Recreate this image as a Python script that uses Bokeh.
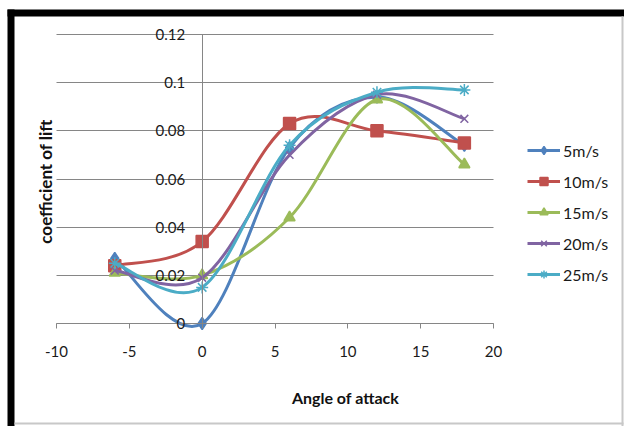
import math
from bokeh.plotting import figure
from bokeh.models import (FixedTicker, Legend, LegendItem, Label, BoxAnnotation,
                          ColumnDataSource, LinearAxis, Grid)
from bokeh.embed import file_html
from bokeh.resources import INLINE

# ---- data ----
angles = [-6, 0, 6, 12, 18]
series_names = ["5m/s", "10m/s", "15m/s", "20m/s", "25m/s"]
cl_5 = [0.027, 0.000, 0.073, 0.094, 0.074]
cl_10 = [0.024, 0.034, 0.083, 0.080, 0.075]
cl_15 = [0.021, 0.020, 0.044, 0.093, 0.066]
cl_20 = [0.022, 0.019, 0.070, 0.095, 0.085]
cl_25 = [0.025, 0.015, 0.074, 0.096, 0.097]
x_ticks = [-10, -5, 0, 5, 10, 15, 20]
x_tick_labels = ["-10", "-5", "0", "5", "10", "15", "20"]
y_ticks = [0, 0.02, 0.04, 0.06, 0.08, 0.1, 0.12]
y_tick_labels = ["0", "0.02", "0.04", "0.06", "0.08", "0.1", "0.12"]

colors = ["#4F81BD", "#C0504D", "#9BBB59", "#8064A2", "#4BACC6"]
markers = ["diamond", "square", "triangle", "x", "asterisk"]
msizes = [12, 12, 11, 11, 12]
FONT = "Lato"
GRID = "#868686"
TXT = "#1a1a1a"

W, H = 624, 426
# plot-area placement inside the chart (pixels)
PX0, PX1, PY_TOP, PY_BOT = 56, 493, 34, 323
x_lo, x_hi = x_ticks[0], x_ticks[-1]
y_lo, y_hi = y_ticks[0], y_ticks[-1]
sx = (PX1 - PX0) / (x_hi - x_lo)
sy = (PY_BOT - PY_TOP) / (y_hi - y_lo)

p = figure(width=W, height=H, output_backend="svg", toolbar_location=None,
           x_axis_type=None, y_axis_type=None,
           x_range=(x_lo - PX0 / sx, x_hi + (W - PX1) / sx),
           y_range=(y_lo - (H - PY_BOT) / sy, y_hi + PY_TOP / sy),
           min_border=0)
p.outline_line_color = None
p.background_fill_color = "white"
p.border_fill_color = "white"

grid = Grid(dimension=1, ticker=FixedTicker(ticks=y_ticks),
            grid_line_color=GRID, grid_line_width=1)
grid.cross_bounds = (x_lo, x_hi)
p.add_layout(grid)

xa = LinearAxis(fixed_location=0, bounds=(x_lo, x_hi),
                ticker=FixedTicker(ticks=x_ticks))
xa.major_label_overrides = dict(zip(x_ticks, x_tick_labels))
xa.axis_line_color = GRID
xa.major_tick_line_color = GRID
xa.major_tick_out = 5
xa.major_tick_in = 0
xa.minor_tick_out = 0
xa.minor_tick_in = 0
xa.major_label_standoff = 17
xa.major_label_text_font = FONT
xa.major_label_text_font_size = "15px"
xa.major_label_text_color = TXT
p.add_layout(xa, "below")

ya = LinearAxis(fixed_location=0, bounds=(y_lo, y_hi),
                ticker=FixedTicker(ticks=y_ticks))
ya.major_label_overrides = dict(zip(y_ticks, y_tick_labels))
ya.axis_line_color = GRID
ya.major_tick_out = 0
ya.major_tick_in = 0
ya.minor_tick_out = 0
ya.minor_tick_in = 0
ya.major_label_standoff = 17
ya.major_label_text_font = FONT
ya.major_label_text_font_size = "15px"
ya.major_label_text_color = TXT
p.add_layout(ya, "left")


def smooth_segments(xs, ys):
    n = len(xs)
    d = dict(x0=[], y0=[], x1=[], y1=[], cx0=[], cy0=[], cx1=[], cy1=[])
    for i in range(n - 1):
        a = i - 1 if i > 0 else i
        b = i + 2 if i + 2 < n else i + 1
        d["x0"].append(xs[i]); d["y0"].append(ys[i])
        d["x1"].append(xs[i + 1]); d["y1"].append(ys[i + 1])
        d["cx0"].append(xs[i] + (xs[i + 1] - xs[a]) / 6)
        d["cy0"].append(ys[i] + (ys[i + 1] - ys[a]) / 6)
        d["cx1"].append(xs[i + 1] - (xs[b] - xs[i]) / 6)
        d["cy1"].append(ys[i + 1] - (ys[b] - ys[i]) / 6)
    return d


items = []
for name, vals, c, m, s in zip(series_names, [cl_5, cl_10, cl_15, cl_20, cl_25],
                               colors, markers, msizes):
    src = ColumnDataSource(smooth_segments(angles, vals))
    r1 = p.bezier(x0="x0", y0="y0", x1="x1", y1="y1", cx0="cx0", cy0="cy0",
                  cx1="cx1", cy1="cy1", source=src, line_color=c, line_width=3)
    r2 = p.scatter(angles, vals, marker=m, size=s, fill_color=c, line_color=c,
                   line_width=1.5)
    items.append(LegendItem(label=name, renderers=[r1, r2]))

legend = Legend(items=items, location=(527, H - 284), orientation="vertical",
                padding=0, margin=0, spacing=11, glyph_width=33, glyph_height=20,
                label_height=20, label_standoff=3, border_line_color=None,
                background_fill_alpha=0, label_text_font=FONT,
                label_text_font_size="16px", label_text_color=TXT)
p.add_layout(legend, "center")

p.add_layout(Label(x=45, y=H - 181, x_units="screen", y_units="screen",
                   text="coefficient of lift", angle=math.pi / 2,
                   text_align="center", text_baseline="middle",
                   text_font=FONT, text_font_style="bold",
                   text_font_size="17px", text_color="#111111"))
p.add_layout(Label(x=345, y=H - 397, x_units="screen", y_units="screen",
                   text="Angle of attack", text_align="center",
                   text_baseline="middle", text_font=FONT,
                   text_font_style="bold", text_font_size="16px",
                   text_color="#111111"))


def screen_box(l, r, t, b, color):
    return BoxAnnotation(left=l, right=r, top=H - t, bottom=H - b,
                         left_units="screen", right_units="screen",
                         top_units="screen", bottom_units="screen",
                         fill_color=color, fill_alpha=1, line_color=None)


# outer chart frame: thick black left/top, thin grey right/bottom
p.add_layout(screen_box(7, 14, 9, H, "black"))
p.add_layout(screen_box(7, W, 9, 16, "black"))
p.add_layout(screen_box(621, 623, 16, H, "#C8C8C8"))
p.add_layout(screen_box(14, 623, 422, 424, "#C8C8C8"))

open("out.html", "w").write(file_html(p, INLINE))
